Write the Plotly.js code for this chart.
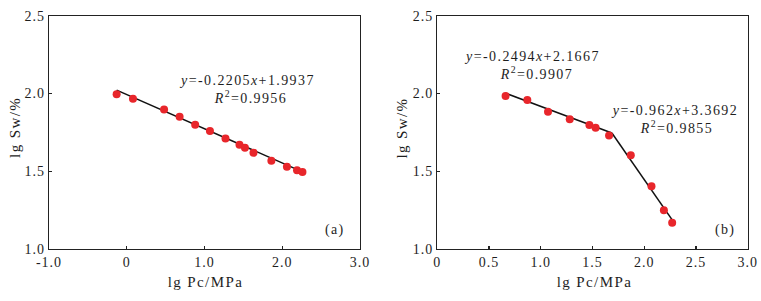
<!DOCTYPE html>
<html>
<head>
<meta charset="utf-8">
<script src="https://cdn.plot.ly/plotly-3.0.1.min.js"></script>
<style>
  html, body { margin: 0; padding: 0; background: #fff; }
  #chart { width: 761px; height: 301px; }
  .main-svg text { letter-spacing: 1px; }
  .main-svg text.annotation-text { letter-spacing: 1.4px; }
</style>
</head>
<body>
<div id="chart"></div>
<script>
// Panel (a)
const xA = [-0.13, 0.08, 0.48, 0.68, 0.88, 1.07, 1.27, 1.45, 1.52, 1.63, 1.86, 2.06, 2.19, 2.26];
const yA = [1.995, 1.966, 1.898, 1.850, 1.799, 1.758, 1.711, 1.670, 1.650, 1.618, 1.567, 1.528, 1.506, 1.495];
const fitA = [-0.2205, 1.9937];           // slope, intercept
const eqA = ["<i>y</i>=-0.2205<i>x</i>+1.9937", "<i>R</i><sup>2</sup>=0.9956"];

// Panel (b)
const xB = [0.66, 0.87, 1.07, 1.28, 1.47, 1.53, 1.66, 1.87, 2.07, 2.19, 2.27];
const yB = [1.984, 1.958, 1.883, 1.835, 1.797, 1.780, 1.730, 1.603, 1.403, 1.248, 1.167];
const fitB1 = [-0.2494, 2.1667];
const fitB2 = [-0.962, 3.3692];
const eqB1 = ["<i>y</i>=-0.2494<i>x</i>+2.1667", "<i>R</i><sup>2</sup>=0.9907"];
const eqB2 = ["<i>y</i>=-0.962<i>x</i>+3.3692", "<i>R</i><sup>2</sup>=0.9855"];

// Tick labels
const xTicksA = [-1, 0, 1, 2, 3];
const xTickTextA = ["-1.0", "0", "1.0", "2.0", "3.0"];
const xTicksB = [0, 0.5, 1, 1.5, 2, 2.5, 3];
const xTickTextB = ["0", "0.5", "1.0", "1.5", "2.0", "2.5", "3.0"];
const yTicks = [1.0, 1.5, 2.0, 2.5];
const yTickText = ["1.0", "1.5", "2.0", "2.5"];
const xTitle = "lg Pc/MPa";
const yTitle = "lg Sw/%";
const panelLabels = ["(a)", "(b)"];

const FONT = "Liberation Serif, Times New Roman, serif";
const RED = "#e8262b";
const INK = "#1e1e1e";
const line = (f, x) => f[0] * x + f[1];

const xa0 = Math.min(...xA), xa1 = Math.max(...xA);
const xb0 = Math.min(...xB), xb1 = Math.max(...xB);
const xBreak = (fitB2[1] - fitB1[1]) / (fitB1[0] - fitB2[0]);

const traces = [
  { x: [xa0, xa1], y: [line(fitA, xa0), line(fitA, xa1)], mode: "lines",
    line: { color: "#111", width: 1.5 }, xaxis: "x", yaxis: "y", hoverinfo: "skip" },
  { x: xA, y: yA, mode: "markers", marker: { color: RED, size: 8 }, xaxis: "x", yaxis: "y" },
  { x: [xb0, xBreak], y: [line(fitB1, xb0), line(fitB1, xBreak)], mode: "lines",
    line: { color: "#111", width: 1.5 }, xaxis: "x2", yaxis: "y2", hoverinfo: "skip" },
  { x: [xBreak, xb1], y: [line(fitB2, xBreak), line(fitB2, xb1)], mode: "lines",
    line: { color: "#111", width: 1.5 }, xaxis: "x2", yaxis: "y2", hoverinfo: "skip" },
  { x: xB, y: yB, mode: "markers", marker: { color: RED, size: 8 }, xaxis: "x2", yaxis: "y2" }
];

const axisBase = {
  showline: true, mirror: true, linecolor: "#222", linewidth: 1.3,
  ticks: "inside", ticklen: 3, tickcolor: "#222", tickwidth: 1.2,
  showgrid: false, zeroline: false,
  tickfont: { family: FONT, size: 14, color: INK }
};

const yDom = [1 - 248.7 / 301, 1 - 16 / 301];

const layout = {
  width: 761, height: 301,
  margin: { l: 0, r: 0, t: 0, b: 0 },
  paper_bgcolor: "#fff", plot_bgcolor: "#fff",
  showlegend: false,
  xaxis: Object.assign({}, axisBase, { domain: [49 / 761, 360 / 761], range: [-1, 3],
    tickvals: xTicksA, ticktext: xTickTextA, anchor: "y" }),
  yaxis: Object.assign({}, axisBase, { domain: yDom, range: [1, 2.5],
    tickvals: yTicks, ticktext: yTickText, anchor: "x" }),
  xaxis2: Object.assign({}, axisBase, { domain: [437.3 / 761, 747.7 / 761], range: [0, 3],
    tickvals: xTicksB, ticktext: xTickTextB, anchor: "y2" }),
  yaxis2: Object.assign({}, axisBase, { domain: yDom, range: [1, 2.5],
    tickvals: yTicks, ticktext: yTickText, anchor: "x2" }),
  annotations: [
    { xref: "x", yref: "y", x: 1.547, y: 2.087, text: eqA[0] },
    { xref: "x", yref: "y", x: 1.596, y: 1.977, text: eqA[1] },
    { xref: "x2", yref: "y2", x: 0.917, y: 2.242, text: eqB1[0] },
    { xref: "x2", yref: "y2", x: 0.954, y: 2.134, text: eqB1[1] },
    { xref: "x2", yref: "y2", x: 2.294, y: 1.894, text: eqB2[0] },
    { xref: "x2", yref: "y2", x: 2.313, y: 1.786, text: eqB2[1] },
    { xref: "paper", yref: "paper", x: 335 / 761, y: 1 - 230 / 301, text: panelLabels[0] },
    { xref: "paper", yref: "paper", x: 725 / 761, y: 1 - 230 / 301, text: panelLabels[1] },
    { xref: "paper", yref: "paper", x: 205 / 761, y: 1 - 282 / 301, text: xTitle, font: { family: FONT, size: 15, color: INK } },
    { xref: "paper", yref: "paper", x: 594 / 761, y: 1 - 282 / 301, text: xTitle, font: { family: FONT, size: 15, color: INK } },
    { xref: "paper", yref: "paper", x: 15 / 761, y: 1 - 128 / 301, text: yTitle, textangle: -90, font: { family: FONT, size: 15, color: INK } },
    { xref: "paper", yref: "paper", x: 401.7 / 761, y: 1 - 128 / 301, text: yTitle, textangle: -90, font: { family: FONT, size: 15, color: INK } }
  ].map(a => Object.assign({ showarrow: false, xanchor: "center", yanchor: "middle",
    font: { family: FONT, size: 14, color: INK } }, a))
};

Plotly.newPlot("chart", traces, layout, { staticPlot: true, displayModeBar: false });
</script>
</body>
</html>
